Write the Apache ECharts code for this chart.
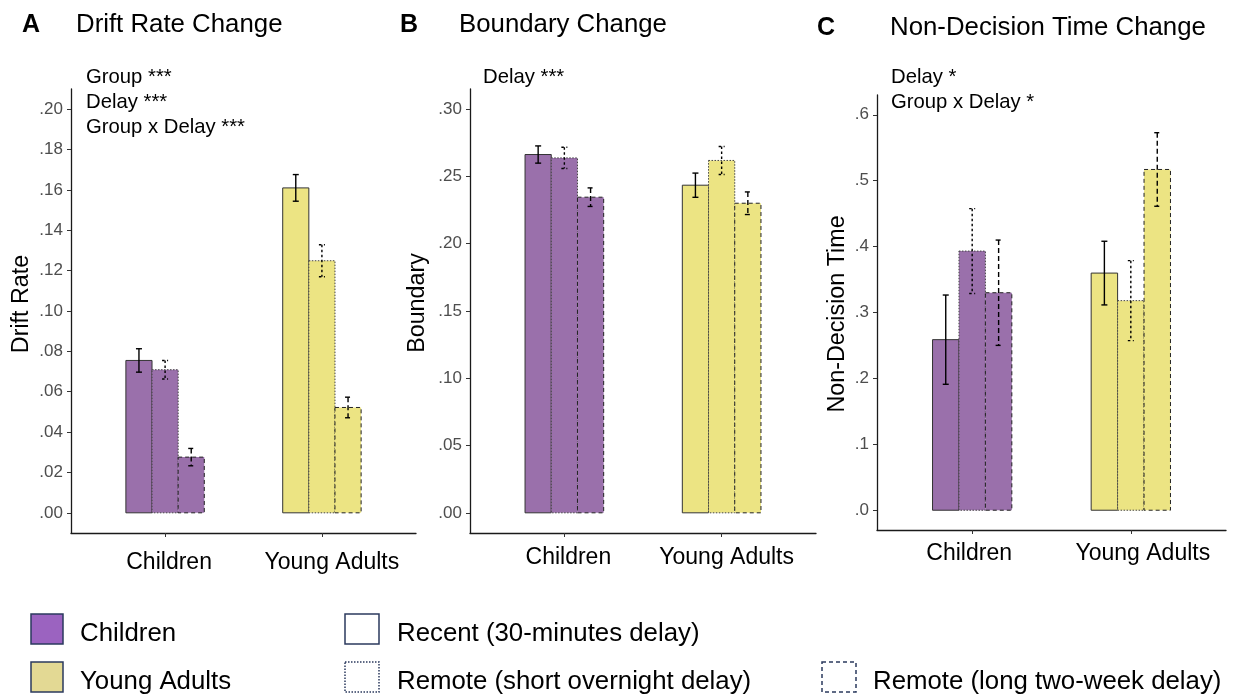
<!DOCTYPE html>
<html><head><meta charset="utf-8">
<script src="https://cdn.jsdelivr.net/npm/echarts@6/dist/echarts.min.js"></script>
<style>html,body{margin:0;padding:0;background:#fff}#c{width:1235px;height:699px}</style>
</head><body><div id="c"></div>
<script>
// ---------- data ----------
const groups = ['Children', 'Young Adults'];
const delays = ['Recent (30-minutes delay)', 'Remote (short overnight delay)', 'Remote (long two-week delay)'];

const driftMean = [[0.0755, 0.0709, 0.0276], [0.1610, 0.1249, 0.0522]];
const driftSE   = [[0.0058, 0.0046, 0.0043], [0.0066, 0.0079, 0.0051]];

const boundaryMean = [[0.2663, 0.2638, 0.2346], [0.2435, 0.2619, 0.2301]];
const boundarySE   = [[0.0064, 0.0079, 0.0069], [0.0090, 0.0104, 0.0084]];

const ndtMean = [[0.2588, 0.3932, 0.3300], [0.3598, 0.3180, 0.5170]];
const ndtSE   = [[0.0677, 0.0644, 0.0799], [0.0483, 0.0607, 0.0558]];

const driftTicks    = [0, 0.02, 0.04, 0.06, 0.08, 0.10, 0.12, 0.14, 0.16, 0.18, 0.20];
const boundaryTicks = [0, 0.05, 0.10, 0.15, 0.20, 0.25, 0.30];
const ndtTicks      = [0, 0.1, 0.2, 0.3, 0.4, 0.5, 0.6];

const panelTitles = ['Drift Rate Change', 'Boundary Change', 'Non-Decision Time Change'];
const panelLetters = ['A', 'B', 'C'];
const axisNames = ['Drift Rate', 'Boundary', 'Non-Decision Time'];
const annotations = [
  ['Group ***', 'Delay ***', 'Group x Delay ***'],
  ['Delay ***'],
  ['Delay *', 'Group x Delay *']
];

// ---------- layout / style ----------
const FONT = '"Liberation Sans", Arial, sans-serif';
const groupColors = ['#9A70AB', '#ECE483'];
const BW = 0.5 / 3;
const borderDash = [null, [1.5, 1.5], [4, 3]];
const errDash = [null, [2.5, 2.5], [5, 3]];
const borderColor = ['#333', '#444', '#222'];

const panels = [
  {mean: driftMean, se: driftSE, ticks: driftTicks, min: -0.01, max: 0.21, dec: 2,
   grid: {left: 71, top: 89, width: 345, height: 444}, xMargin: 18, labelShift: [4, 10]},
  {mean: boundaryMean, se: boundarySE, ticks: boundaryTicks, min: -0.015, max: 0.315, dec: 2,
   grid: {left: 470, top: 89, width: 346, height: 444}, xMargin: 13, labelShift: [4, 5]},
  {mean: ndtMean, se: ndtSE, ticks: ndtTicks, min: -0.03, max: 0.63, dec: 1,
   grid: {left: 877, top: 95, width: 349, height: 435}, xMargin: 12, labelShift: [-3, 12]}
];

function flatten(mean, se) {
  const out = [];
  for (let g = 0; g < mean.length; g++)
    for (let d = 0; d < mean[g].length; d++)
      out.push([g, d, mean[g][d], se[g][d]]);
  return out;
}

function renderItem(params, api) {
  const g = api.value(0), d = api.value(1), m = api.value(2), se = api.value(3);
  const xc = g + 1 + (d - 1) * BW;
  const p0 = api.coord([xc - BW / 2, m]);
  const p1 = api.coord([xc + BW / 2, 0]);
  const e0 = api.coord([xc, m + se]);
  const e1 = api.coord([xc, m - se]);
  const cap = 3;
  const es = {stroke: '#000', lineWidth: 1.4, lineDash: errDash[d], fill: null};
  return {
    type: 'group',
    children: [
      {type: 'rect', shape: {x: p0[0], y: p0[1], width: p1[0] - p0[0], height: p1[1] - p0[1]},
       style: {fill: groupColors[g], stroke: borderColor[d], lineWidth: 1, lineDash: borderDash[d]}},
      {type: 'line', shape: {x1: e0[0], y1: e0[1], x2: e1[0], y2: e1[1]}, style: es},
      {type: 'line', shape: {x1: e0[0] - cap, y1: e0[1], x2: e0[0] + cap, y2: e0[1]}, style: es},
      {type: 'line', shape: {x1: e1[0] - cap, y1: e1[1], x2: e1[0] + cap, y2: e1[1]}, style: es}
    ]
  };
}

const grids = [], xAxes = [], yAxes = [], series = [];
panels.forEach((p, i) => {
  grids.push(Object.assign({containLabel: false}, p.grid));
  const rich = {};
  p.labelShift.forEach((s, k) => {
    rich['g' + k] = {fontFamily: FONT, fontSize: 23, color: '#000',
      padding: s >= 0 ? [0, 0, 0, 2 * s] : [0, -2 * s, 0, 0]};
  });
  xAxes.push({
    type: 'value', gridIndex: i, min: 0.4, max: 2.6,
    splitLine: {show: false},
    axisLine: {show: true, onZero: false, lineStyle: {color: '#1a1a1a', width: 1.3}},
    axisTick: {show: true, length: 4, lineStyle: {color: '#333', width: 1}, customValues: [1, 2]},
    axisLabel: {show: true, customValues: [1, 2],
      formatter: v => { const k = Math.round(v) - 1; return '{g' + k + '|' + groups[k] + '}'; },
      rich: rich, color: '#000', fontFamily: FONT, fontSize: 23, margin: p.xMargin}
  });
  yAxes.push({
    type: 'value', gridIndex: i, min: p.min, max: p.max,
    splitLine: {show: false},
    axisLine: {show: true, onZero: false, lineStyle: {color: '#1a1a1a', width: 1.3}},
    axisTick: {show: true, length: 4, lineStyle: {color: '#333', width: 1}, customValues: p.ticks},
    axisLabel: {show: true, customValues: p.ticks,
      formatter: v => v.toFixed(p.dec).replace(/^0/, ''),
      color: '#4D4D4D', fontFamily: FONT, fontSize: 17, margin: 8}
  });
  series.push({
    type: 'custom', xAxisIndex: i, yAxisIndex: i,
    data: flatten(p.mean, p.se), renderItem: renderItem,
    encode: {x: 0, y: 2}, clip: false, silent: true
  });
});

// ---------- text & legend graphics ----------
const graphics = [];
const titlePos = [{lx: 22, tx: 76, y: 25}, {lx: 400, tx: 459, y: 25}, {lx: 817, tx: 890, y: 28}];
titlePos.forEach((t, i) => {
  graphics.push({type: 'text', x: t.lx, y: t.y, style: {text: panelLetters[i], font: 'bold 25px ' + FONT,
    fill: '#000', textAlign: 'left', textVerticalAlign: 'middle'}});
  graphics.push({type: 'text', x: t.tx, y: t.y, style: {text: panelTitles[i], font: '25.8px ' + FONT,
    fill: '#000', textAlign: 'left', textVerticalAlign: 'middle'}});
});
const annX = [86, 483, 891];
annotations.forEach((lines, i) => {
  lines.forEach((s, k) => {
    graphics.push({type: 'text', x: annX[i], y: 77 + k * 25, style: {text: s, font: '20.3px ' + FONT,
      fill: '#000', textAlign: 'left', textVerticalAlign: 'middle'}});
  });
});
const axisNamePos = [{x: 22, y: 304}, {x: 418, y: 303}, {x: 838, y: 314}];
axisNamePos.forEach((a, i) => {
  graphics.push({type: 'text', x: a.x, y: a.y, rotation: Math.PI / 2,
    style: {text: axisNames[i], font: '23.3px ' + FONT, fill: '#000', textAlign: 'center', textVerticalAlign: 'middle'}});
});

// legend
const legendFill = ['#9B63C0', '#E3D994'];
const navy = '#2B3A5E';
const legendSwatch = [{x: 31, y: 614}, {x: 31, y: 662}];
groups.forEach((gname, i) => {
  graphics.push({type: 'rect', shape: {x: legendSwatch[i].x, y: legendSwatch[i].y, width: 32, height: 30},
    style: {fill: legendFill[i], stroke: navy, lineWidth: 1.5}});
  graphics.push({type: 'text', x: 80, y: legendSwatch[i].y + 20, style: {text: gname, font: '25.8px ' + FONT,
    fill: '#000', textAlign: 'left', textVerticalAlign: 'middle'}});
});
const delaySwatch = [{x: 345, y: 614, tx: 397}, {x: 345, y: 662, tx: 397}, {x: 822, y: 662, tx: 873}];
const legendDash = [null, [1.5, 1.5], [4, 3]];
delays.forEach((dname, i) => {
  const s = delaySwatch[i];
  graphics.push({type: 'rect', shape: {x: s.x, y: s.y, width: 34, height: 30},
    style: {fill: '#fff', stroke: navy, lineWidth: 1.5, lineDash: legendDash[i]}});
  graphics.push({type: 'text', x: s.tx, y: s.y + 20, style: {text: dname, font: '25.8px ' + FONT,
    fill: '#000', textAlign: 'left', textVerticalAlign: 'middle'}});
});

const chart = echarts.init(document.getElementById('c'), null, {renderer: 'canvas'});
chart.setOption({
  animation: false,
  backgroundColor: '#fff',
  grid: grids, xAxis: xAxes, yAxis: yAxes, series: series,
  graphic: graphics
});
</script>
</body></html>
